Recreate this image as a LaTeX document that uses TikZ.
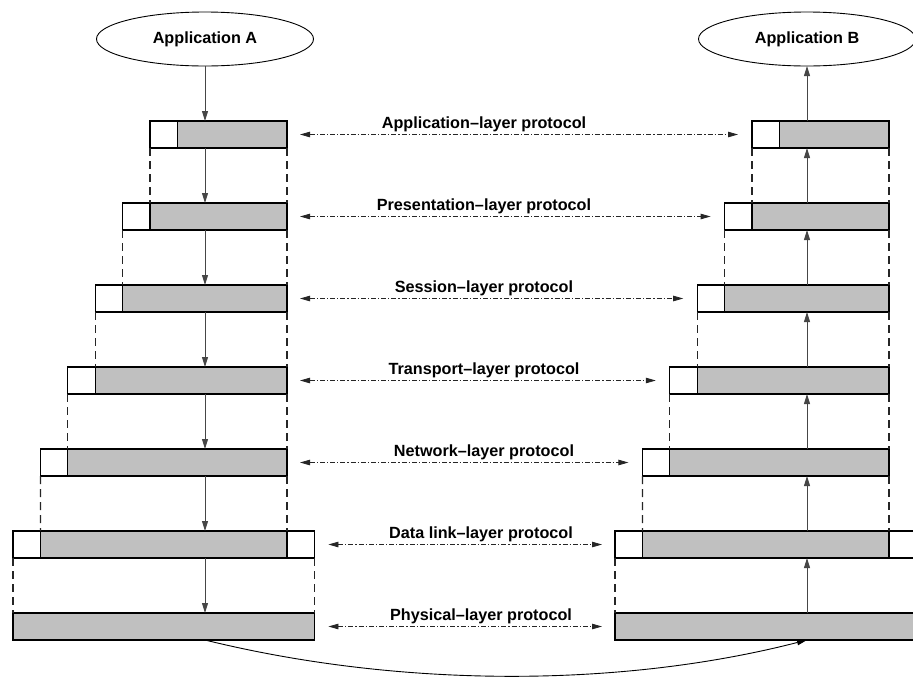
\documentclass[tikz,border=0pt]{standalone}
\usepackage{fontspec}
\newfontfamily\labfont{Liberation Sans}
\usetikzlibrary{arrows.meta,shapes.geometric}
\definecolor{pdufill}{RGB}{192,192,192}
\definecolor{linegray}{RGB}{70,70,70}

\begin{document}
\begin{tikzpicture}[x=1pt,y=-1pt,
  cell/.style={draw=black, line width=1.1pt, minimum height=27pt, inner sep=0pt,
               outer sep=0pt, anchor=north west},
  hdr/.style={cell, fill=white, minimum width=27.4pt},
  pdu/.style={cell, fill=pdufill},
  app/.style={ellipse, draw=black, line width=0.9pt, minimum width=217pt,
              minimum height=54pt, inner sep=0pt, outer sep=0pt,
              font=\labfont\bfseries\fontsize{16.2}{19}\selectfont},
  lab/.style={font=\labfont\bfseries\fontsize{16.2}{19}\selectfont, anchor=base, inner sep=0pt},
  varrow/.style={draw=linegray, line width=0.9pt, -{Triangle[length=10pt,width=6pt]}},
  encap/.style={draw=black!85, line width=1.2pt, dash pattern=on 8pt off 5pt},
  proto/.style={draw=black!85, line width=0.8pt, dash pattern=on 5pt off 2pt on 1.2pt off 2pt,
                {Triangle[length=10pt,width=5.5pt]}-{Triangle[length=10pt,width=5.5pt]}},
  medium/.style={draw=black, line width=0.9pt, -{Triangle[length=10pt,width=5.5pt]}}
]
\useasboundingbox (0,0) rectangle (913,678);
\clip (0,0) rectangle (913,678);

% the two applications
\node[app] (appA) at (205,39) {\raisebox{-5pt}{Application A}};
\node[app] (appB) at (807,39) {\raisebox{-5pt}{Application B}};

% layers 1..5: header + payload on both hosts
\foreach \i in {1,...,5} {
  \pgfmathsetmacro\hdrx{150-27.4*(\i-1)}
  \pgfmathsetmacro\pdux{\hdrx+27.4}
  \pgfmathsetmacro\pduw{287-\pdux}
  \pgfmathsetmacro\rowy{121+82*(\i-1)}
  \node[hdr] (lh\i) at (\hdrx,\rowy) {};
  \node[pdu, minimum width=\pduw pt] (ld\i) at (\pdux,\rowy) {};
  \node[hdr] (rh\i) at (\hdrx+602,\rowy) {};
  \node[pdu, minimum width=\pduw pt] (rd\i) at (\pdux+602,\rowy) {};
}

% data link layer: header, payload, trailer
\node[hdr] (lh6) at (13,531) {};
\node[pdu, minimum width=246.6pt] (ld6) at (40.4,531) {};
\node[hdr] (lt6) at (287,531) {};
\node[hdr] (rh6) at (615,531) {};
\node[pdu, minimum width=246.6pt] (rd6) at (642.4,531) {};
\node[hdr] (rt6) at (889,531) {};

% physical layer
\node[pdu, minimum width=301.4pt] (lp) at (13,613) {};
\node[pdu, minimum width=301.4pt] (rp) at (615,613) {};

% encapsulation guides
\foreach \i/\j in {1/2,2/3,3/4,4/5,5/6} {
  \draw[encap] (lh\i.south west) -- (ld\j.north west);
  \draw[encap] (ld\i.south east) -- (ld\j.north east);
  \draw[encap] (rh\i.south west) -- (rd\j.north west);
  \draw[encap] (rd\i.south east) -- (rd\j.north east);
}
\draw[encap] (lh6.south west) -- (lp.north west);
\draw[encap] (lt6.south east) -- (lp.north east);
\draw[encap] (rh6.south west) -- (rp.north west);
\draw[encap] (rt6.south east) -- (rp.north east);

% downward path on the sending host
\draw[varrow] (appA.south) -- (appA.south |- ld1.north);
\foreach \i/\j in {1/2,2/3,3/4,4/5,5/6} {
  \draw[varrow] (appA.south |- ld\i.south) -- (appA.south |- ld\j.north);
}
\draw[varrow] (appA.south |- ld6.south) -- (appA.south |- lp.north);

% upward path on the receiving host
\draw[varrow] (appB.south |- rd1.north) -- (appB.south);
\foreach \i/\j in {1/2,2/3,3/4,4/5,5/6} {
  \draw[varrow] (appB.south |- rd\j.north) -- (appB.south |- rd\i.south);
}
\draw[varrow] (appB.south |- rp.north) -- (appB.south |- rd6.south);

% peer protocols
\foreach \i/\name in {1/Application,2/Presentation,3/Session,4/Transport,5/Network} {
  \draw[proto] ([xshift=13pt]ld\i.east) -- ([xshift=-14pt]rh\i.west);
  \node[lab] (pl\i) at (484,{128+82*(\i-1)}) {\name\textendash layer protocol};
}
\draw[proto] ([xshift=14pt]lt6.east) -- ([xshift=-13pt]rh6.west);
\node[lab] (pl6) at (481,538) {Data link\textendash layer protocol};
\draw[proto] ([xshift=14pt]lp.east) -- ([xshift=-13pt]rp.west);
\node[lab] (pl7) at (481,620) {Physical\textendash layer protocol};

% transmission medium
\draw[medium] (appA.south |- lp.south) .. controls (400,688) and (620,688) .. (appB.south |- rp.south);
\end{tikzpicture}
\end{document}
